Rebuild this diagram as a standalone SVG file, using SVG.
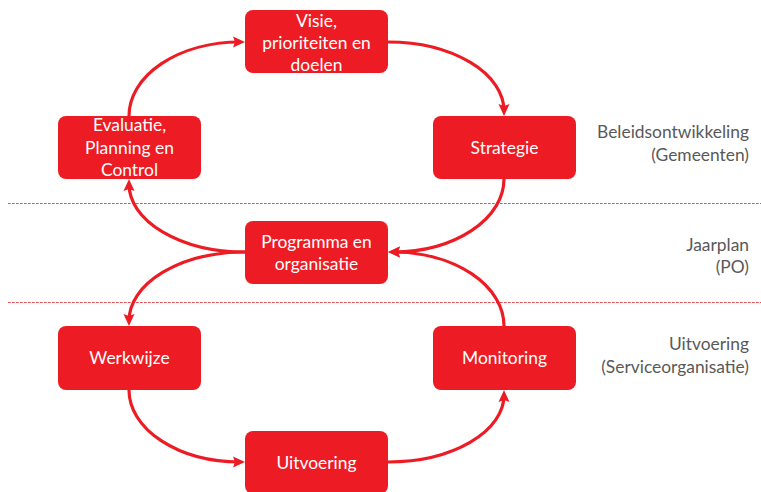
<svg xmlns="http://www.w3.org/2000/svg" width="761" height="492" viewBox="0 0 761 492">
<style>
.box rect{fill:#ED1C24;}
.box text{fill:#FFFFFF;font-family:Lato,"Open Sans",sans-serif;font-size:17.4px;text-anchor:middle;}
.lbl text{fill:#595959;font-family:Lato,"Open Sans",sans-serif;font-size:17.4px;text-anchor:end;}
.conn path{fill:none;stroke:#ED1C24;stroke-width:3.2;marker-end:url(#ah);}
.sep line{stroke:#EE4A52;stroke-width:1;stroke-dasharray:2.7 1.3;}
</style>
<defs>
<marker id="ah" markerUnits="userSpaceOnUse" markerWidth="13" markerHeight="13" viewBox="0 0 13 13" refX="7" refY="6.5" orient="auto">
<path d="M0,1 L12,6.5 L0,12 L2,6.5 z" fill="#ED1C24"/>
</marker>
</defs>
<rect width="761" height="492" fill="#FFFFFF"/>
<g class="sep">
<line x1="8" y1="203.5" x2="761" y2="203.5"/>
<line x1="8" y1="302.5" x2="761" y2="302.5"/>
</g>
<g class="conn">
<path d="M129,116 A111 74 0 0 1 240,42"/>
<path d="M388,42 A116 69 0 0 1 504,111"/>
<path d="M504,179 A111 73 0 0 1 393,252"/>
<path d="M245,252 A116 68 0 0 1 129,184"/>
<path d="M245,252 A116 69 0 0 0 129,321"/>
<path d="M129,390 A111 72 0 0 0 240,462"/>
<path d="M388,462 A116 67 0 0 0 504,395"/>
<path d="M504,326 A111 74 0 0 0 393,252"/>
</g>
<g id="visie" class="box">
<rect x="245" y="10" width="143" height="63" rx="8"/>
<text x="316.5" y="27">Visie,</text>
<text x="316.5" y="49">prioriteiten en</text>
<text x="316.5" y="71">doelen</text>
</g>
<g id="evaluatie" class="box">
<rect x="58" y="116" width="143" height="63" rx="8"/>
<text x="129.5" y="131">Evaluatie,</text>
<text x="129.5" y="153.5">Planning en</text>
<text x="129.5" y="176">Control</text>
</g>
<g id="strategie" class="box">
<rect x="433" y="116" width="143" height="63" rx="8"/>
<text x="504.5" y="153.5">Strategie</text>
</g>
<g id="programma" class="box">
<rect x="245" y="221" width="143" height="63" rx="8"/>
<text x="316.5" y="248">Programma en</text>
<text x="316.5" y="270">organisatie</text>
</g>
<g id="werkwijze" class="box">
<rect x="58" y="326" width="143" height="64" rx="8"/>
<text x="129.5" y="364">Werkwijze</text>
</g>
<g id="monitoring" class="box">
<rect x="433" y="326" width="143" height="64" rx="8"/>
<text x="504.5" y="364">Monitoring</text>
</g>
<g id="uitvoering" class="box">
<rect x="245" y="431" width="143" height="63" rx="8"/>
<text x="316.5" y="469">Uitvoering</text>
</g>
<g id="labels" class="lbl">
<text x="749" y="138">Beleidsontwikkeling</text>
<text x="749" y="161">(Gemeenten)</text>
<text x="749" y="251">Jaarplan</text>
<text x="749" y="273">(PO)</text>
<text x="749" y="350">Uitvoering</text>
<text x="749" y="373">(Serviceorganisatie)</text>
</g>
</svg>
